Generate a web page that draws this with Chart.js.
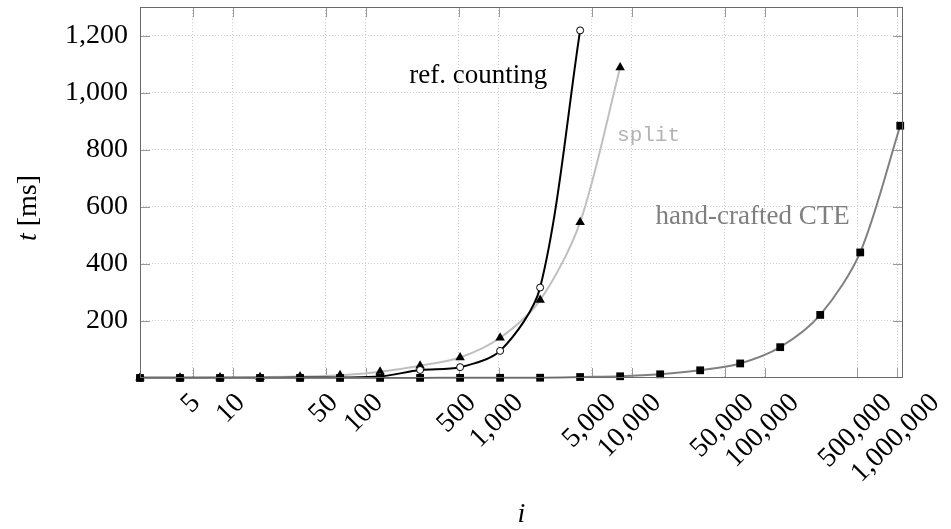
<!DOCTYPE html>
<html>
<head>
<meta charset="utf-8">
<script src="https://cdn.jsdelivr.net/npm/chart.js@4/dist/chart.umd.min.js"></script>
<style>
  html, body { margin: 0; padding: 0; background: #fff; }
  #wrap { width: 951px; height: 529px; }
</style>
</head>
<body>
<div id="wrap"><canvas id="timingChart"></canvas></div>
<script>
// problem size i (powers of two)
const sizes = [2, 4, 8, 16, 32, 64, 128, 256, 512, 1024, 2048, 4096, 8192, 16384,
  32768, 65536, 131072, 262144, 524288, 1048576];

// t [ms]
const refCounting = [1, 1, 1, 1, 1.5, 2, 5, 28, 38, 95, 317, 1218];
const split = [0.5, 1, 1.5, 3, 5, 10, 22, 43, 72, 141, 273, 546, 1088];
const handCrafted = [0.05, 0.1, 0.1, 0.15, 0.2, 0.25, 0.3, 0.4, 0.5, 0.7, 1, 3.5, 6, 13, 27, 51, 108, 221, 440, 884];

const xTicks = [5, 10, 50, 100, 500, 1000, 5000, 10000, 50000, 100000, 500000, 1000000];
const yTicks = [200, 400, 600, 800, 1000, 1200];

const serif = '"Liberation Serif", "DejaVu Serif", serif';
const fmt = v => v.toLocaleString('en-US');

const toPoints = vals => vals.map((v, i) => ({ x: sizes[i], y: v }));

// ticks inside the frame, frame, rotated x labels, axis titles, curve labels
const decor = {
  id: 'decor',
  beforeDatasetsDraw(chart) {
    const { ctx, chartArea: a, scales: { x, y } } = chart;
    ctx.save();
    ctx.strokeStyle = '#9a9a9a';
    ctx.lineWidth = 1;
    ctx.beginPath();
    xTicks.forEach(v => {
      const px = Math.round(x.getPixelForValue(v)) + 0.5;
      ctx.moveTo(px, a.bottom); ctx.lineTo(px, a.bottom - 10);
      ctx.moveTo(px, a.top); ctx.lineTo(px, a.top + 10);
    });
    yTicks.forEach(v => {
      const py = Math.round(y.getPixelForValue(v)) + 0.5;
      ctx.moveTo(a.left, py); ctx.lineTo(a.left + 10, py);
      ctx.moveTo(a.right, py); ctx.lineTo(a.right - 10, py);
    });
    ctx.stroke();
    ctx.restore();
  },
  afterDraw(chart) {
    const { ctx, chartArea: a, scales: { x, y } } = chart;
    ctx.save();
    ctx.strokeStyle = '#6a6a6a';
    ctx.lineWidth = 1;
    ctx.strokeRect(a.left + 0.5, a.top + 0.5, a.width - 1, a.height - 1);

    // x tick labels, rotated 45deg, box top-centred under the tick
    ctx.font = '28px ' + serif;
    ctx.fillStyle = '#000';
    ctx.textAlign = 'center';
    ctx.textBaseline = 'middle';
    xTicks.forEach(v => {
      const txt = fmt(v);
      const w = ctx.measureText(txt).width;
      const h = 19;
      const boxH = (w + h) * Math.SQRT1_2;
      const px = x.getPixelForValue(v);
      ctx.save();
      ctx.translate(px - 2, a.bottom + 14 + boxH / 2);
      ctx.rotate(-Math.PI / 4);
      ctx.fillText(txt, 0, 0);
      ctx.restore();
    });

    // x title
    ctx.font = 'italic 28px ' + serif;
    ctx.textBaseline = 'alphabetic';
    ctx.fillText('i', (a.left + a.right) / 2, 522);

    // y title: t [ms]
    ctx.save();
    ctx.translate(36, 208);
    ctx.rotate(-Math.PI / 2);
    ctx.font = 'italic 28px ' + serif;
    const tW = ctx.measureText('t').width;
    ctx.font = '28px ' + serif;
    const rest = ' [ms]';
    const rW = ctx.measureText(rest).width;
    ctx.textAlign = 'left';
    ctx.font = 'italic 28px ' + serif;
    ctx.fillText('t', -(tW + rW) / 2, 0);
    ctx.font = '28px ' + serif;
    ctx.fillText(rest, -(tW + rW) / 2 + tW, 0);
    ctx.restore();

    // curve labels
    ctx.textAlign = 'center';
    ctx.textBaseline = 'alphabetic';
    ctx.font = '27px ' + serif;
    ctx.fillStyle = '#000';
    ctx.fillText('ref. counting', x.getPixelForValue(700), y.getPixelForValue(1035));
    ctx.font = '21px "Liberation Mono", "DejaVu Sans Mono", monospace';
    ctx.fillStyle = '#b3b3b3';
    ctx.fillText('split', x.getPixelForValue(13400), y.getPixelForValue(832));
    ctx.font = '27px ' + serif;
    ctx.fillStyle = '#7f7f7f';
    ctx.fillText('hand-crafted CTE', x.getPixelForValue(81300), y.getPixelForValue(538));
    ctx.restore();
  }
};

const ctx = document.getElementById('timingChart').getContext('2d');
const timingChart = new Chart(ctx, {
  type: 'line',
  data: {
    datasets: [{
      label: 'hand-crafted CTE',
      data: toPoints(handCrafted),
      borderColor: '#808080',
      borderWidth: 2,
      pointStyle: 'rect',
      pointRadius: 5.5,
      pointBackgroundColor: '#000',
      pointBorderColor: '#000',
      pointBorderWidth: 0,
      tension: 0.3,
      clip: false,
      order: 0
    }, {
      label: 'ref. counting',
      data: toPoints(refCounting),
      borderColor: '#000',
      borderWidth: 2,
      pointStyle: 'circle',
      pointRadius: 3.5,
      pointBackgroundColor: '#fff',
      pointBorderColor: '#000',
      pointBorderWidth: 1,
      tension: 0.3,
      clip: false,
      order: 1
    }, {
      label: 'split',
      data: toPoints(split),
      borderColor: '#bfbfbf',
      borderWidth: 2,
      pointStyle: 'triangle',
      pointRadius: 5.5,
      pointBackgroundColor: '#000',
      pointBorderColor: '#000',
      pointBorderWidth: 0,
      tension: 0.3,
      clip: false,
      order: 2
    }]
  },
  options: {
    responsive: true,
    maintainAspectRatio: false,
    animation: false,
    events: [],
    layout: { padding: { left: 0, top: 7, right: 48, bottom: 0 } },
    plugins: { legend: { display: false }, tooltip: { enabled: false } },
    scales: {
      x: {
        type: 'logarithmic',
        min: 2,
        max: 1100000,
        afterBuildTicks: scale => { scale.ticks = xTicks.map(v => ({ value: v })); },
        afterFit: scale => { scale.height = 151; scale.paddingLeft = 0; scale.paddingRight = 0; },
        ticks: { display: false },
        grid: { color: '#cfcfcf', lineWidth: 1, drawTicks: false },
        border: { display: false, dash: [1, 2] }
      },
      y: {
        type: 'linear',
        min: 0,
        max: 1300,
        afterBuildTicks: scale => { scale.ticks = yTicks.map(v => ({ value: v })); },
        afterFit: scale => { scale.width = 140; scale.paddingTop = 0; scale.paddingBottom = 0; },
        ticks: {
          padding: 12,
          color: '#000',
          font: { family: serif, size: 28 },
          callback: v => fmt(v)
        },
        grid: { color: '#cfcfcf', lineWidth: 1, drawTicks: false },
        border: { display: false, dash: [1, 2] }
      }
    }
  },
  plugins: [decor]
});
</script>
</body>
</html>
